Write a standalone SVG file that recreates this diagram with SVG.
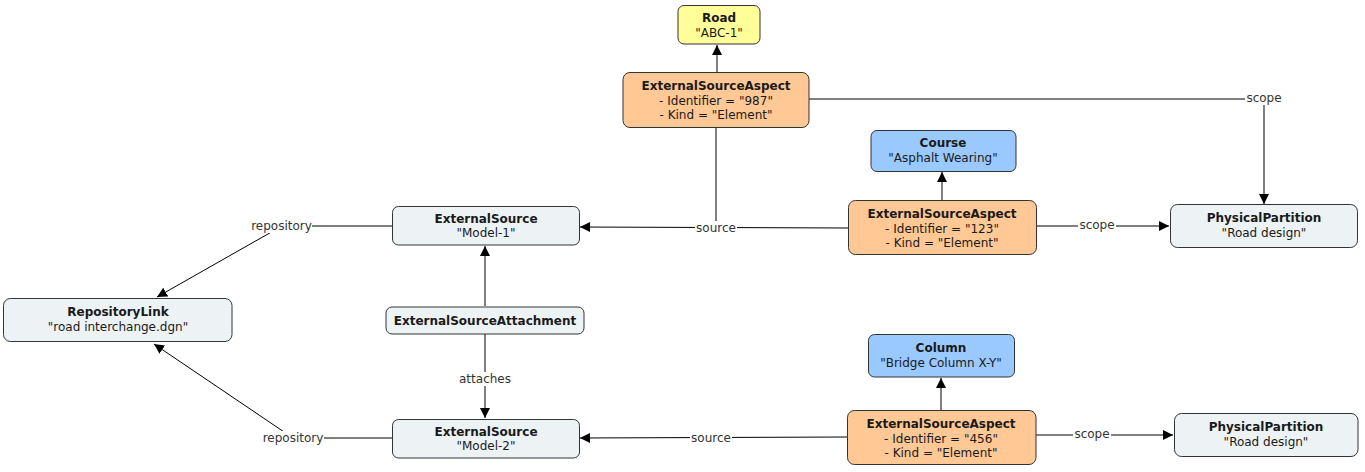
<svg xmlns="http://www.w3.org/2000/svg" width="1365" height="472" viewBox="0 0 1365 472">
<defs>
<marker id="arr" viewBox="0 0 10 10" refX="10" refY="5" markerWidth="10" markerHeight="10" markerUnits="userSpaceOnUse" orient="auto">
<path d="M0,0 L10,5 L0,10 z" fill="#000"/>
</marker>
<style>
.box{stroke:#333;stroke-width:1}
.gray{fill:#edf3f5}
.orange{fill:#ffc894}
.blue{fill:#99c9ff}
.yellow{fill:#ffff99}
text{font-family:"DejaVu Sans",Verdana,sans-serif;font-size:12px;fill:#1a1a1a;text-anchor:middle}
.b{font-weight:bold}
.edge{fill:none;stroke:#000;stroke-width:1}
.lbl{fill:#333}
.lblbg{fill:#fff}
</style>
</defs>
<rect width="1365" height="472" fill="#fff"/>

<g id="connectors">
<path class="edge" d="M717,72 L717,45" marker-end="url(#arr)"/>
<path class="edge" d="M809,99 L1264,99 L1264,204" marker-end="url(#arr)"/>
<path class="edge" d="M716,127 L716,228"/>
<path class="edge" d="M848,228 L580,227" marker-end="url(#arr)"/>
<path class="edge" d="M942,200 L942,172" marker-end="url(#arr)"/>
<path class="edge" d="M1036,226 L1169,226" marker-end="url(#arr)"/>
<path class="edge" d="M392,226 L282,226 L157,297" marker-end="url(#arr)"/>
<path class="edge" d="M485,306 L485,246" marker-end="url(#arr)"/>
<path class="edge" d="M485,334 L485,418" marker-end="url(#arr)"/>
<path class="edge" d="M941,410 L941,378" marker-end="url(#arr)"/>
<path class="edge" d="M1036,435 L1173,435" marker-end="url(#arr)"/>
<path class="edge" d="M847,437 L580,438" marker-end="url(#arr)"/>
<path class="edge" d="M392,438 L293,438 L154,344" marker-end="url(#arr)"/>

<rect class="lblbg" x="1245" y="91" width="38" height="14"/>
<text class="lbl" x="1264" y="102">scope</text>
<rect class="lblbg" x="695" y="221" width="42" height="14"/>
<text class="lbl" x="716" y="232">source</text>
<rect class="lblbg" x="1078" y="218" width="38" height="14"/>
<text class="lbl" x="1097" y="229">scope</text>
<rect class="lblbg" x="251" y="219" width="61" height="14"/>
<text class="lbl" x="281.5" y="230">repository</text>
<rect class="lblbg" x="458" y="372" width="54" height="14"/>
<text class="lbl" x="485" y="383">attaches</text>
<rect class="lblbg" x="1073" y="427" width="38" height="14"/>
<text class="lbl" x="1092" y="438">scope</text>
<rect class="lblbg" x="690" y="431" width="42" height="14"/>
<text class="lbl" x="711" y="442">source</text>
<rect class="lblbg" x="263" y="431" width="61" height="14"/>
<text class="lbl" x="293" y="442">repository</text>
</g>

<g id="road">
<rect class="box yellow" x="678" y="5.5" width="82" height="38.5" rx="6"/>
<text class="b" x="719" y="22">Road</text>
<text x="719" y="37">"ABC-1"</text>
</g>
<g id="esa1">
<rect class="box orange" x="623" y="72.5" width="186" height="55" rx="7"/>
<text class="b" x="716" y="90">ExternalSourceAspect</text>
<text x="716" y="104.5">- Identifier = "987"</text>
<text x="716" y="119">- Kind = "Element"</text>
</g>
<g id="course">
<rect class="box blue" x="871" y="130.5" width="145" height="41" rx="6"/>
<text class="b" x="943" y="147">Course</text>
<text x="943" y="162">"Asphalt Wearing"</text>
</g>
<g id="esa2">
<rect class="box orange" x="848.5" y="200.5" width="188" height="54" rx="7"/>
<text class="b" x="942" y="218">ExternalSourceAspect</text>
<text x="942" y="232.5">- Identifier = "123"</text>
<text x="942" y="247">- Kind = "Element"</text>
</g>
<g id="pp1">
<rect class="box gray" x="1170.5" y="204.5" width="187" height="43" rx="7"/>
<text class="b" x="1264" y="222">PhysicalPartition</text>
<text x="1264" y="237">"Road design"</text>
</g>
<g id="es1">
<rect class="box gray" x="392.5" y="206.5" width="187" height="38.5" rx="6"/>
<text class="b" x="486" y="223">ExternalSource</text>
<text x="486" y="237">"Model-1"</text>
</g>
<g id="repolink">
<rect class="box gray" x="3.5" y="298.5" width="228.5" height="43" rx="7"/>
<text class="b" x="118" y="316">RepositoryLink</text>
<text x="118" y="331">"road interchange.dgn"</text>
</g>
<g id="esattach">
<rect class="box gray" x="386" y="307" width="198" height="27" rx="6"/>
<text class="b" x="485" y="325">ExternalSourceAttachment</text>
</g>
<g id="column">
<rect class="box blue" x="868.5" y="334.5" width="146" height="42.5" rx="6"/>
<text class="b" x="941" y="352">Column</text>
<text x="941" y="367">"Bridge Column X-Y"</text>
</g>
<g id="esa3">
<rect class="box orange" x="847.5" y="410.5" width="188.5" height="54" rx="7"/>
<text class="b" x="941" y="428">ExternalSourceAspect</text>
<text x="941" y="442.5">- Identifier = "456"</text>
<text x="941" y="457">- Kind = "Element"</text>
</g>
<g id="pp2">
<rect class="box gray" x="1174.5" y="413.5" width="183.5" height="43" rx="7"/>
<text class="b" x="1266" y="431">PhysicalPartition</text>
<text x="1266" y="446">"Road design"</text>
</g>
<g id="es2">
<rect class="box gray" x="392.5" y="419.5" width="187" height="38.5" rx="6"/>
<text class="b" x="486" y="436">ExternalSource</text>
<text x="486" y="450">"Model-2"</text>
</g>
</svg>
